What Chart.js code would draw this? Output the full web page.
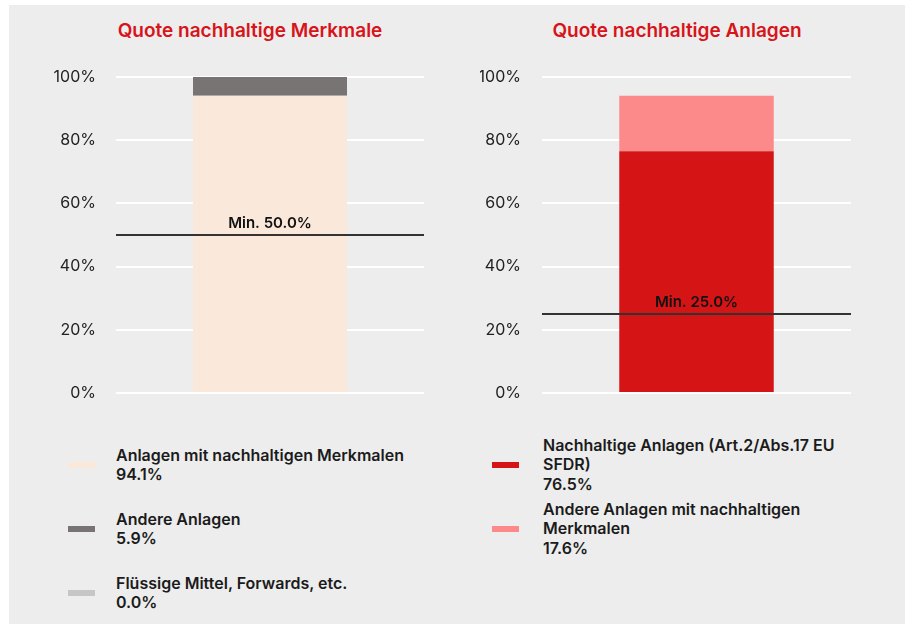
<!DOCTYPE html>
<html>
<head>
<meta charset="utf-8">
<script src="https://cdn.jsdelivr.net/npm/chart.js@4.4.1/dist/chart.umd.min.js"></script>
<style>
body{margin:0;background:#fff;font-family:Inter,"Noto Sans",sans-serif;}
#panel{position:absolute;left:9px;top:5px;width:896px;height:625px;background:#ededed;}
.box{position:absolute;}
#box1{left:50px;top:5px;width:400px;height:415px;}
#box2{left:480px;top:5px;width:392px;height:415px;}
.title{position:absolute;top:19px;width:400px;text-align:center;font-weight:600;font-size:19px;line-height:24px;color:#d7141a;}
#title1{left:50px;}
#title2{left:477px;}
.legend{position:absolute;top:433px;}
#legend1{left:68px;}
#legend2{left:492px;}
.item{display:flex;align-items:center;height:64px;}
.sw{width:27px;height:6px;flex:none;}
.txt{font-weight:600;font-size:16px;line-height:19.5px;color:#1b1b1b;}
#legend1 .txt{margin-left:21px;width:330px;}
#legend2 .txt{margin-left:24px;width:300px;}
</style>
</head>
<body>
<div id="panel"></div>
<div class="title" id="title1"></div>
<div class="title" id="title2"></div>
<div class="box" id="box1"><canvas id="chart1"></canvas></div>
<div class="box" id="box2"><canvas id="chart2"></canvas></div>
<div class="legend" id="legend1"></div>
<div class="legend" id="legend2"></div>
<script>
/* ===== data ===== */
const titles=["Quote nachhaltige Merkmale","Quote nachhaltige Anlagen"];

const merkmaleLabels=[
"Anlagen mit nachhaltigen Merkmalen",
"Andere Anlagen",
"Flüssige Mittel, Forwards, etc."
];
const merkmaleValues=[94.1,5.9,0.0];

const anlagenLabels=[
"Nachhaltige Anlagen (Art.2/Abs.17 EU SFDR)",
"Andere Anlagen mit nachhaltigen Merkmalen"
];
const anlagenValues=[76.5,17.6];

const minValues=[50.0,25.0];
const yTicks=[0,20,40,60,80,100];

/* ===== styles ===== */
const merkmaleColors=["#fae8da","#787473","#c6c6c6"];
const anlagenColors=["#d51415","#fc8a8a"];

document.getElementById("title1").innerText=titles[0];
document.getElementById("title2").innerText=titles[1];

/* min line */
const minLine={
id:"minLine",
afterDatasetsDraw(chart,args,opts){
const {ctx,chartArea}=chart;
const y=chart.scales.y.getPixelForValue(opts.value);
ctx.save();
ctx.strokeStyle="#333333";
ctx.lineWidth=2;
ctx.beginPath();
ctx.moveTo(chartArea.left,y);
ctx.lineTo(chartArea.right,y);
ctx.stroke();
ctx.fillStyle="#111";
ctx.font="600 15px Inter";
ctx.textAlign="center";
ctx.textBaseline="alphabetic";
ctx.fillText("Min. "+opts.value.toFixed(1)+"%",(chartArea.left+chartArea.right)/2,y-7);
ctx.restore();
}
};

function makeChart(id,labels,values,colors,minVal,axisW,tickPad,padRight){
return new Chart(document.getElementById(id),{
type:"bar",
data:{
labels:[""],
datasets:labels.map((l,i)=>({
label:l,
data:[values[i]],
backgroundColor:colors[i],
barPercentage:0.5,
categoryPercentage:1
}))
},
options:{
responsive:true,
maintainAspectRatio:false,
animation:false,
layout:{padding:{left:0,right:padRight,bottom:27,top:72}},
plugins:{
legend:{display:false},
tooltip:{enabled:false},
title:{display:false},
minLine:{value:minVal}
},
scales:{
x:{stacked:true,display:false,ticks:{display:false},grid:{display:false}},
y:{
stacked:true,
min:0,max:100,
afterBuildTicks(scale){scale.ticks=yTicks.map(v=>({value:v}));},
afterFit(scale){
scale.width=axisW;
scale.paddingTop=0;
scale.paddingBottom=0;
},
border:{display:false},
grid:{color:"#ffffff",lineWidth:2,drawTicks:false},
ticks:{
padding:tickPad,
color:"#222",
font:{family:"Inter",size:16,weight:"400"},
callback:v=>v+"%"
}
}
}
},
plugins:[minLine]
});
}

makeChart("chart1",merkmaleLabels,merkmaleValues,merkmaleColors,minValues[0],66,20,26);
makeChart("chart2",anlagenLabels,anlagenValues,anlagenColors,minValues[1],62,21,21);

/* legends */
function buildLegend(id,labels,values,colors){
const el=document.getElementById(id);
labels.forEach((l,i)=>{
const row=document.createElement("div");
row.className="item";
row.innerHTML='<div class="sw" style="background:'+colors[i]+'"></div>'+
'<div class="txt">'+l+'<br>'+values[i].toFixed(1)+'%</div>';
el.appendChild(row);
});
}
buildLegend("legend1",merkmaleLabels,merkmaleValues,merkmaleColors);
buildLegend("legend2",anlagenLabels,anlagenValues,anlagenColors);
</script>
</body>
</html>
